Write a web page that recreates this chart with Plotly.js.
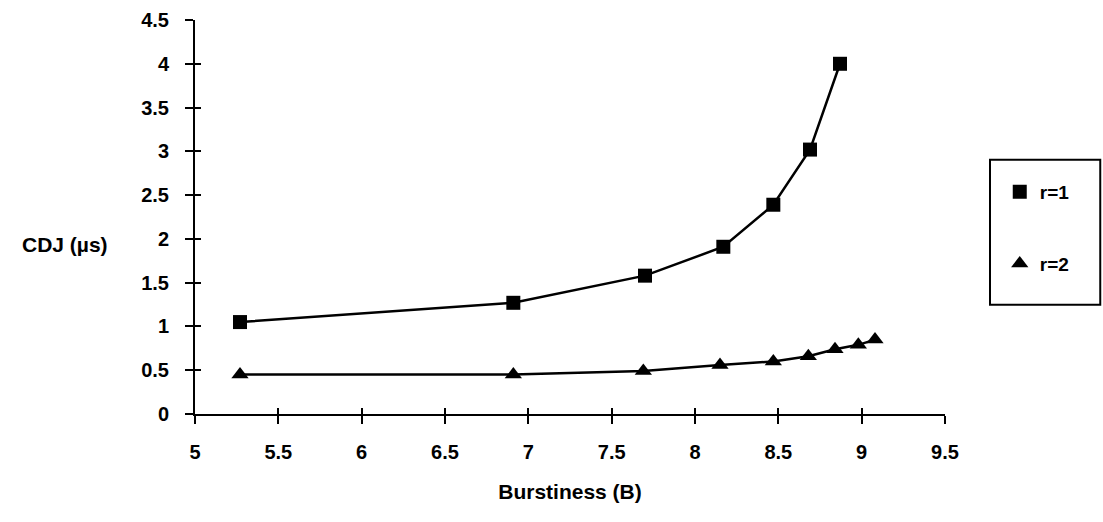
<!DOCTYPE html>
<html>
<head>
<meta charset="utf-8">
<script src="https://cdn.plot.ly/plotly-3.0.1.min.js"></script>
<style>html,body{margin:0;padding:0;background:#fff;}#chart{width:1103px;height:522px;}</style>
</head>
<body>
<div id="chart"></div>
<script>
var burstR1 = [5.27, 6.91, 7.70, 8.17, 8.47, 8.69, 8.87];
var cdjR1   = [1.05, 1.27, 1.58, 1.91, 2.39, 3.02, 4.00];
var burstR2 = [5.27, 6.91, 7.69, 8.15, 8.47, 8.68, 8.84, 8.98, 9.08];
var cdjR2   = [0.45, 0.45, 0.49, 0.56, 0.60, 0.66, 0.74, 0.79, 0.85];
var xTicks = [5, 5.5, 6, 6.5, 7, 7.5, 8, 8.5, 9, 9.5];
var yTicks = [0, 0.5, 1, 1.5, 2, 2.5, 3, 3.5, 4, 4.5];
var seriesNames = ['r=1', 'r=2'];

var font = {family: '"Liberation Sans", Arial, sans-serif', size: 20, color: '#000', weight: 'bold'};
var titleFont = {family: font.family, size: 21, color: '#000', weight: 'bold'};

var traces = [
  {x: burstR1, y: cdjR1, name: seriesNames[0], type: 'scatter', mode: 'lines+markers',
   showlegend: false,
   line: {color: '#000', width: 2.5}, marker: {symbol: 'square', size: 14, color: '#000'}},
  {x: burstR2, y: cdjR2, name: seriesNames[1], type: 'scatter', mode: 'lines+markers',
   showlegend: false,
   line: {color: '#000', width: 2.5}, marker: {symbol: 'triangle-up', size: 15, color: '#000'}},
  {x: [null], y: [null], name: seriesNames[0], type: 'scatter', mode: 'markers', legendgroup: 'a',
   marker: {symbol: 'square', size: 14, color: '#000'}},
  {x: [null], y: [null], name: seriesNames[1], type: 'scatter', mode: 'markers', legendgroup: 'b',
   marker: {symbol: 'triangle-up', size: 15, color: '#000'}},
  {x: [], y: [], xaxis: 'x2', yaxis: 'y2', showlegend: false, hoverinfo: 'skip'}
];

var layout = {
  width: 1103, height: 522,
  paper_bgcolor: '#fff', plot_bgcolor: '#fff',
  margin: {l: 195, r: 158, t: 20, b: 108},
  font: font,
  showlegend: true,
  legend: {x: 1.073, y: 0.612, xanchor: 'left', yanchor: 'top',
    borderwidth: 0, bgcolor: 'rgba(0,0,0,0)',
    font: {family: font.family, size: 19, color: '#000', weight: 'bold'},
    tracegroupgap: 44, traceorder: 'grouped', itemwidth: 30},
  shapes: [{type: 'rect', xref: 'paper', yref: 'paper', x0: 1.06, x1: 1.207, y0: 0.277, y1: 0.645,
    line: {color: '#000', width: 2}, fillcolor: 'rgba(0,0,0,0)'}],
  xaxis: {range: [5, 9.5], tickvals: xTicks, ticktext: xTicks.map(String),
    showgrid: false, zeroline: false, showline: true, linecolor: '#000', linewidth: 2,
    ticks: 'outside', ticklen: 8, tickwidth: 2, tickcolor: '#000', ticklabelstandoff: 11,
    tickfont: font,
    title: {text: 'Burstiness (B)', font: titleFont, standoff: 22}},
  yaxis: {range: [0, 4.5], tickvals: yTicks, ticktext: yTicks.map(String),
    showgrid: false, zeroline: false, showline: true, linecolor: '#000', linewidth: 2,
    ticks: 'outside', ticklen: 8, tickwidth: 2, tickcolor: '#000', ticklabelstandoff: 12,
    tickfont: font},
  xaxis2: {overlaying: 'x', matches: 'x', range: [5, 9.5], tickvals: xTicks, showticklabels: false,
    ticks: 'inside', ticklen: 6, tickwidth: 2, tickcolor: '#000', showgrid: false, zeroline: false, showline: false},
  yaxis2: {overlaying: 'y', matches: 'y', range: [0, 4.5], tickvals: yTicks, showticklabels: false,
    ticks: 'inside', ticklen: 6, tickwidth: 2, tickcolor: '#000', showgrid: false, zeroline: false, showline: false},
  annotations: [{text: 'CDJ (µs)', xref: 'paper', yref: 'paper', x: -0.173, y: 0.43,
    xanchor: 'center', yanchor: 'middle', showarrow: false, font: titleFont}]
};

Plotly.newPlot('chart', traces, layout, {displayModeBar: false, staticPlot: true});
</script>
</body>
</html>
